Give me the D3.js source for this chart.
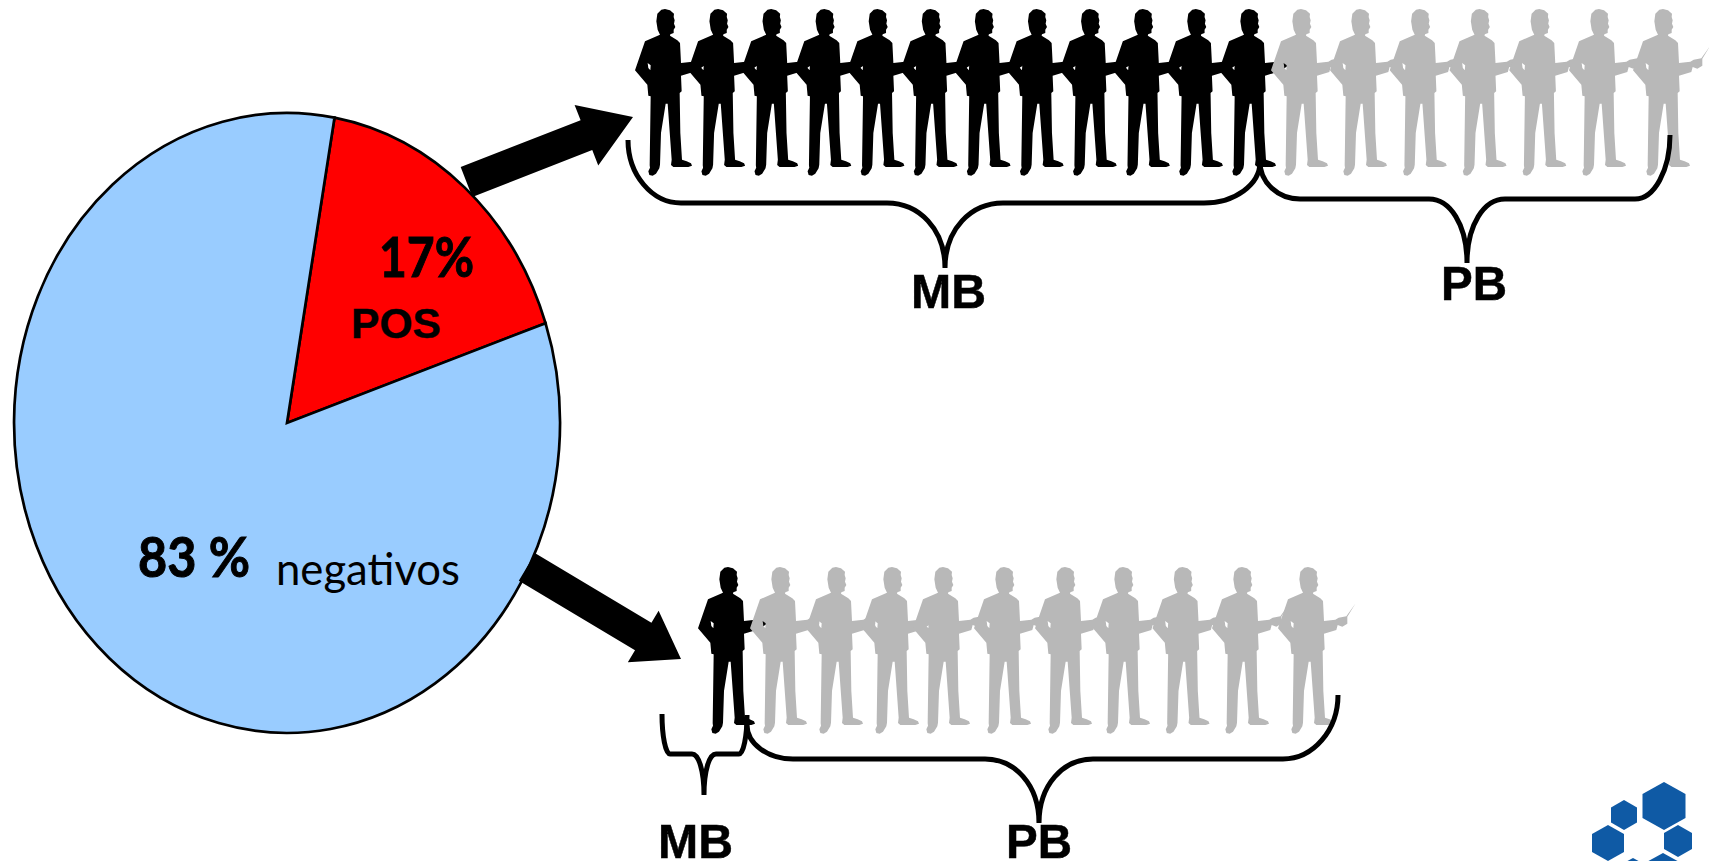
<!DOCTYPE html>
<html lang="pt">
<head>
<meta charset="utf-8">
<title>Resultados positivos e negativos</title>
<script src="https://cdn.jsdelivr.net/npm/d3@7"></script>
<style>
  html, body { margin: 0; padding: 0; background: #fff; overflow: hidden; }
  svg { display: block; }
  text { fill: #000; }
</style>
</head>
<body>
<svg id="chart" width="1709" height="861"></svg>
<script>
// Share of results
const groups = ["POS", "negativos"];
const shares = [17, 83];
const groupColors = ["#ff0000", "#99ccff"];

// Head counts per bacillary class in each branch
const posCounts = { MB: 12, PB: 7 };
const negCounts = { MB: 1, PB: 10 };
const classColors = { MB: "#000000", PB: "#b8b8b8" };

const svg = d3.select("#chart");

// ---- Pie, drawn on a unit circle and stretched into an ellipse ----
const pieX = 287, pieY = 423, pieRx = 273, pieRy = 310;
const pieGen = d3.pie().sort(null)
  .startAngle(10 * Math.PI / 180)
  .endAngle((10 + 360) * Math.PI / 180);
const arcGen = d3.arc().innerRadius(0).outerRadius(1);

svg.append("g")
  .attr("transform", `translate(${pieX},${pieY}) scale(${pieRx},${pieRy})`)
  .selectAll("path")
  .data(pieGen(shares))
  .join("path")
  .attr("d", arcGen)
  .attr("fill", (d, i) => groupColors[i])
  .attr("stroke", "#000")
  .attr("stroke-width", 2.7)
  .attr("stroke-linejoin", "miter")
  .attr("vector-effect", "non-scaling-stroke");

// ---- Block arrows from the pie to each branch ----
function arrowPoints(x0, y0, x1, y1, shaftW, headW, headL) {
  const len = Math.hypot(x1 - x0, y1 - y0);
  const ux = (x1 - x0) / len, uy = (y1 - y0) / len;
  const nx = -uy, ny = ux;
  const nx2 = x1 - ux * headL, ny2 = y1 - uy * headL;
  const p = (x, y, w) => [x + nx * w / 2, y + ny * w / 2];
  return [
    p(x0, y0, shaftW), p(nx2, ny2, shaftW), p(nx2, ny2, headW), [x1, y1],
    p(nx2, ny2, -headW), p(nx2, ny2, -shaftW), p(x0, y0, -shaftW)
  ];
}
const outline = d3.line().curve(d3.curveLinearClosed);
svg.append("path").attr("d", outline(arrowPoints(466.5, 182, 633, 117, 32, 65, 50))).attr("fill", "#000");
svg.append("path").attr("d", outline(arrowPoints(527, 567, 681, 659, 32, 60, 44))).attr("fill", "#000");

// ---- Standing figure silhouette, outline in glyph units ----
const figureBody = [
  [135,28],[150,32],[162,42],[161,52],[164,62],[162,72],[166,82],[161,90],[161,100],[151,104],[150,108],
  [172,122],[180,130],[183,190],[217,186],[222,183],[227,180],[250,176],[277,138],[253,177],[253,198],
  [238,207],[224,202],[220,217],[183,228],[185,275],[179,280],[181,400],[186,480],[200,485],[213,491],
  [216,498],[205,502],[160,502],[153,496],[155,480],[143,312],[137,312],[123,400],[120,495],[118,506],
  [108,522],[98,528],[88,526],[85,515],[90,504],[89,497],[92,290],[85,288],[82,255],[45,212],[75,125],
  [120,105],[113,90],[109,65],[112,42],[124,30]
];
const figurePocket = [[83,190],[92,197],[91,212],[85,205]];
const figureD = outline(figureBody) + outline(figurePocket);
const glyphScale = 1 / 3, glyphHeadX = 135, glyphTop = 28;

function drawFigures(count, color, xScale, topY) {
  svg.append("g").selectAll("path")
    .data(d3.range(count))
    .join("path")
    .attr("d", figureD)
    .attr("fill", color)
    .attr("fill-rule", "evenodd")
    .attr("transform", i =>
      `translate(${xScale(i) - glyphHeadX * glyphScale},${topY - glyphTop * glyphScale}) scale(${glyphScale})`);
}

const posMbX = d3.scaleLinear().domain([0, posCounts.MB - 1]).range([665, 1249]);
const posPbX = d3.scaleLinear().domain([0, 1, 5, 6]).range([1301, 1360, 1599, 1663]);
const negMbX = () => 728;
const negPbX = d3.scaleLinear().domain([0, 2, 3, 5, 6, 8, 9]).range([780, 892, 943, 1065, 1123, 1242, 1308]);

drawFigures(posCounts.MB, classColors.MB, posMbX, 9);
drawFigures(posCounts.PB, classColors.PB, posPbX, 9);
drawFigures(negCounts.MB, classColors.MB, negMbX, 567);
drawFigures(negCounts.PB, classColors.PB, negPbX, 567);

// ---- Curly braces under each group ----
function brace(x0, yEnd0, x1, yEnd1, xm, yTip, yBar, r0, r1, cusp) {
  const k = 0.55, h = yTip - yBar;
  return `M${x0},${yEnd0}
    C${x0},${yEnd0 + k * (yBar - yEnd0)} ${x0 + r0 * (1 - k)},${yBar} ${x0 + r0},${yBar}
    L${xm - cusp},${yBar}
    C${xm - cusp * 0.45},${yBar} ${xm},${yBar + h * 0.4} ${xm},${yTip}
    C${xm},${yBar + h * 0.4} ${xm + cusp * 0.45},${yBar} ${xm + cusp},${yBar}
    L${x1 - r1},${yBar}
    C${x1 - r1 * (1 - k)},${yBar} ${x1},${yEnd1 + k * (yBar - yEnd1)} ${x1},${yEnd1}`;
}
const braces = [
  brace(628, 140, 1260, 162, 945, 268, 203, 53, 56, 58),
  brace(1260, 162, 1670, 135, 1467, 263, 199, 40, 35, 38),
  brace(662, 714, 747, 715, 704, 795, 754, 8, 8, 12),
  brace(747, 725, 1338, 695, 1039, 823, 759, 46, 55, 54)
];
svg.append("g").selectAll("path")
  .data(braces)
  .join("path")
  .attr("d", d => d)
  .attr("fill", "none")
  .attr("stroke", "#000")
  .attr("stroke-width", 5);

// ---- Labels ----
const labels = [
  { t: "17%", x: 379, y: 277, fs: 55, w: 95, fam: "Lato", fw: 700, sw: 1 },
  { t: groups[0], x: 351, y: 338, fs: 42, w: 90, fam: "Liberation Sans", fw: 700, sw: 0.4 },
  { t: "83 %", x: 138, y: 577, fs: 55, w: 112, fam: "Lato", fw: 700, sw: 1 },
  { t: groups[1], x: 276, y: 585, fs: 45, w: 184, fam: "Lato", fw: 400, sw: 0 },
  { t: "MB", x: 911, y: 308, fs: 49, w: 75, fam: "Liberation Sans", fw: 700, sw: 0.5 },
  { t: "PB", x: 1441, y: 300, fs: 49, w: 66, fam: "Liberation Sans", fw: 700, sw: 0.5 },
  { t: "MB", x: 658, y: 858, fs: 49, w: 75, fam: "Liberation Sans", fw: 700, sw: 0.5 },
  { t: "PB", x: 1006, y: 858, fs: 49, w: 66, fam: "Liberation Sans", fw: 700, sw: 0.5 }
];
svg.append("g").selectAll("text")
  .data(labels)
  .join("text")
  .text(d => d.t)
  .attr("x", d => d.x)
  .attr("y", d => d.y)
  .attr("font-family", d => `${d.fam}, sans-serif`)
  .attr("font-weight", d => d.fw)
  .attr("font-size", d => d.fs)
  .attr("stroke", "#000")
  .attr("stroke-width", d => d.sw)
  .attr("textLength", d => d.w)
  .attr("lengthAdjust", "spacingAndGlyphs");

// ---- Hexagon emblem in the corner ----
const hexagons = [
  [1664, 806, 21.5, 24], [1624, 815, 13, 15], [1608, 843, 16, 18],
  [1678, 841, 14, 16], [1663, 875, 20, 22], [1633, 872, 13, 14]
];
svg.append("g").selectAll("path")
  .data(hexagons)
  .join("path")
  .attr("fill", "#0f5aa5")
  .attr("d", ([cx, cy, hw, hh]) => outline([
    [cx, cy - hh], [cx + hw, cy - hh / 2], [cx + hw, cy + hh / 2],
    [cx, cy + hh], [cx - hw, cy + hh / 2], [cx - hw, cy - hh / 2]
  ]));
</script>
</body>
</html>
